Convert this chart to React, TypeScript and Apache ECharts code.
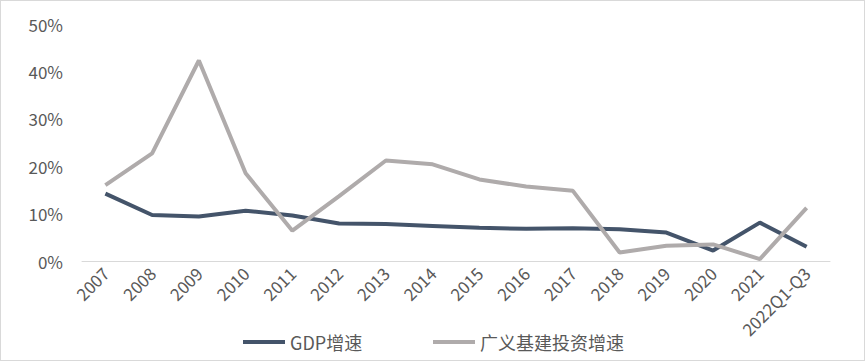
import React, { useEffect, useRef } from "react";
import * as echarts from "echarts";

const categories = ["2007","2008","2009","2010","2011","2012","2013","2014","2015","2016","2017","2018","2019","2020","2021","2022Q1-Q3"];
const gdpGrowth = [14.2, 9.7, 9.4, 10.6, 9.6, 7.9, 7.8, 7.4, 7.0, 6.8, 6.9, 6.7, 6.0, 2.2, 8.1, 3.0];
const infraGrowth = [16.0, 22.7, 42.3, 18.5, 6.4, 13.7, 21.2, 20.4, 17.2, 15.7, 14.8, 1.8, 3.2, 3.5, 0.4, 11.2];
const seriesNames = ["GDP增速", "广义基建投资增速"];

const FONT = "'Noto Sans CJK SC', 'Noto Sans', sans-serif";

export default function App() {
  const ref = useRef<HTMLDivElement>(null);
  useEffect(() => {
    if (!ref.current) return;
    const chart = echarts.init(ref.current, undefined, { renderer: "svg" });
    const legendBase = {
      top: 332,
      padding: 0,
      itemWidth: 42,
      itemHeight: 4,
      icon: "rect",
      textStyle: { fontSize: 18, color: "#595959", fontFamily: FONT },
    };
    chart.setOption({
      animation: false,
      backgroundColor: "#ffffff",
      textStyle: { fontFamily: FONT },
      grid: { left: 81, right: 34, top: 23, bottom: 99, containLabel: false },
      legend: [
        { ...legendBase, left: 242, data: [seriesNames[0]] },
        { ...legendBase, left: 432, data: [seriesNames[1]] },
      ],
      xAxis: {
        type: "category",
        data: categories,
        boundaryGap: true,
        axisLine: { lineStyle: { color: "#d9d9d9", width: 1 } },
        axisTick: { show: false },
        axisLabel: { rotate: 45, fontSize: 17, color: "#595959", margin: 9, interval: 0, fontFamily: FONT },
      },
      yAxis: {
        type: "value",
        min: 0,
        max: 50,
        interval: 10,
        axisLine: { show: false },
        axisTick: { show: false },
        splitLine: { show: false },
        axisLabel: { formatter: "{value}%", fontSize: 17, color: "#595959", margin: 19, fontFamily: FONT },
      },
      series: [
        {
          name: seriesNames[0],
          type: "line",
          data: gdpGrowth,
          symbol: "none",
          lineStyle: { color: "#44546a", width: 4 },
          itemStyle: { color: "#44546a" },
        },
        {
          name: seriesNames[1],
          type: "line",
          data: infraGrowth,
          symbol: "none",
          lineStyle: { color: "#afabab", width: 4 },
          itemStyle: { color: "#afabab" },
        },
      ],
    });
    return () => chart.dispose();
  }, []);
  return (
    <div
      style={{
        position: "absolute",
        left: 0,
        top: 0,
        width: 865,
        height: 361,
        boxSizing: "border-box",
        border: "1px solid #d9d9d9",
        background: "#fff",
      }}
    >
      <div ref={ref} style={{ width: 863, height: 359 }} />
    </div>
  );
}
